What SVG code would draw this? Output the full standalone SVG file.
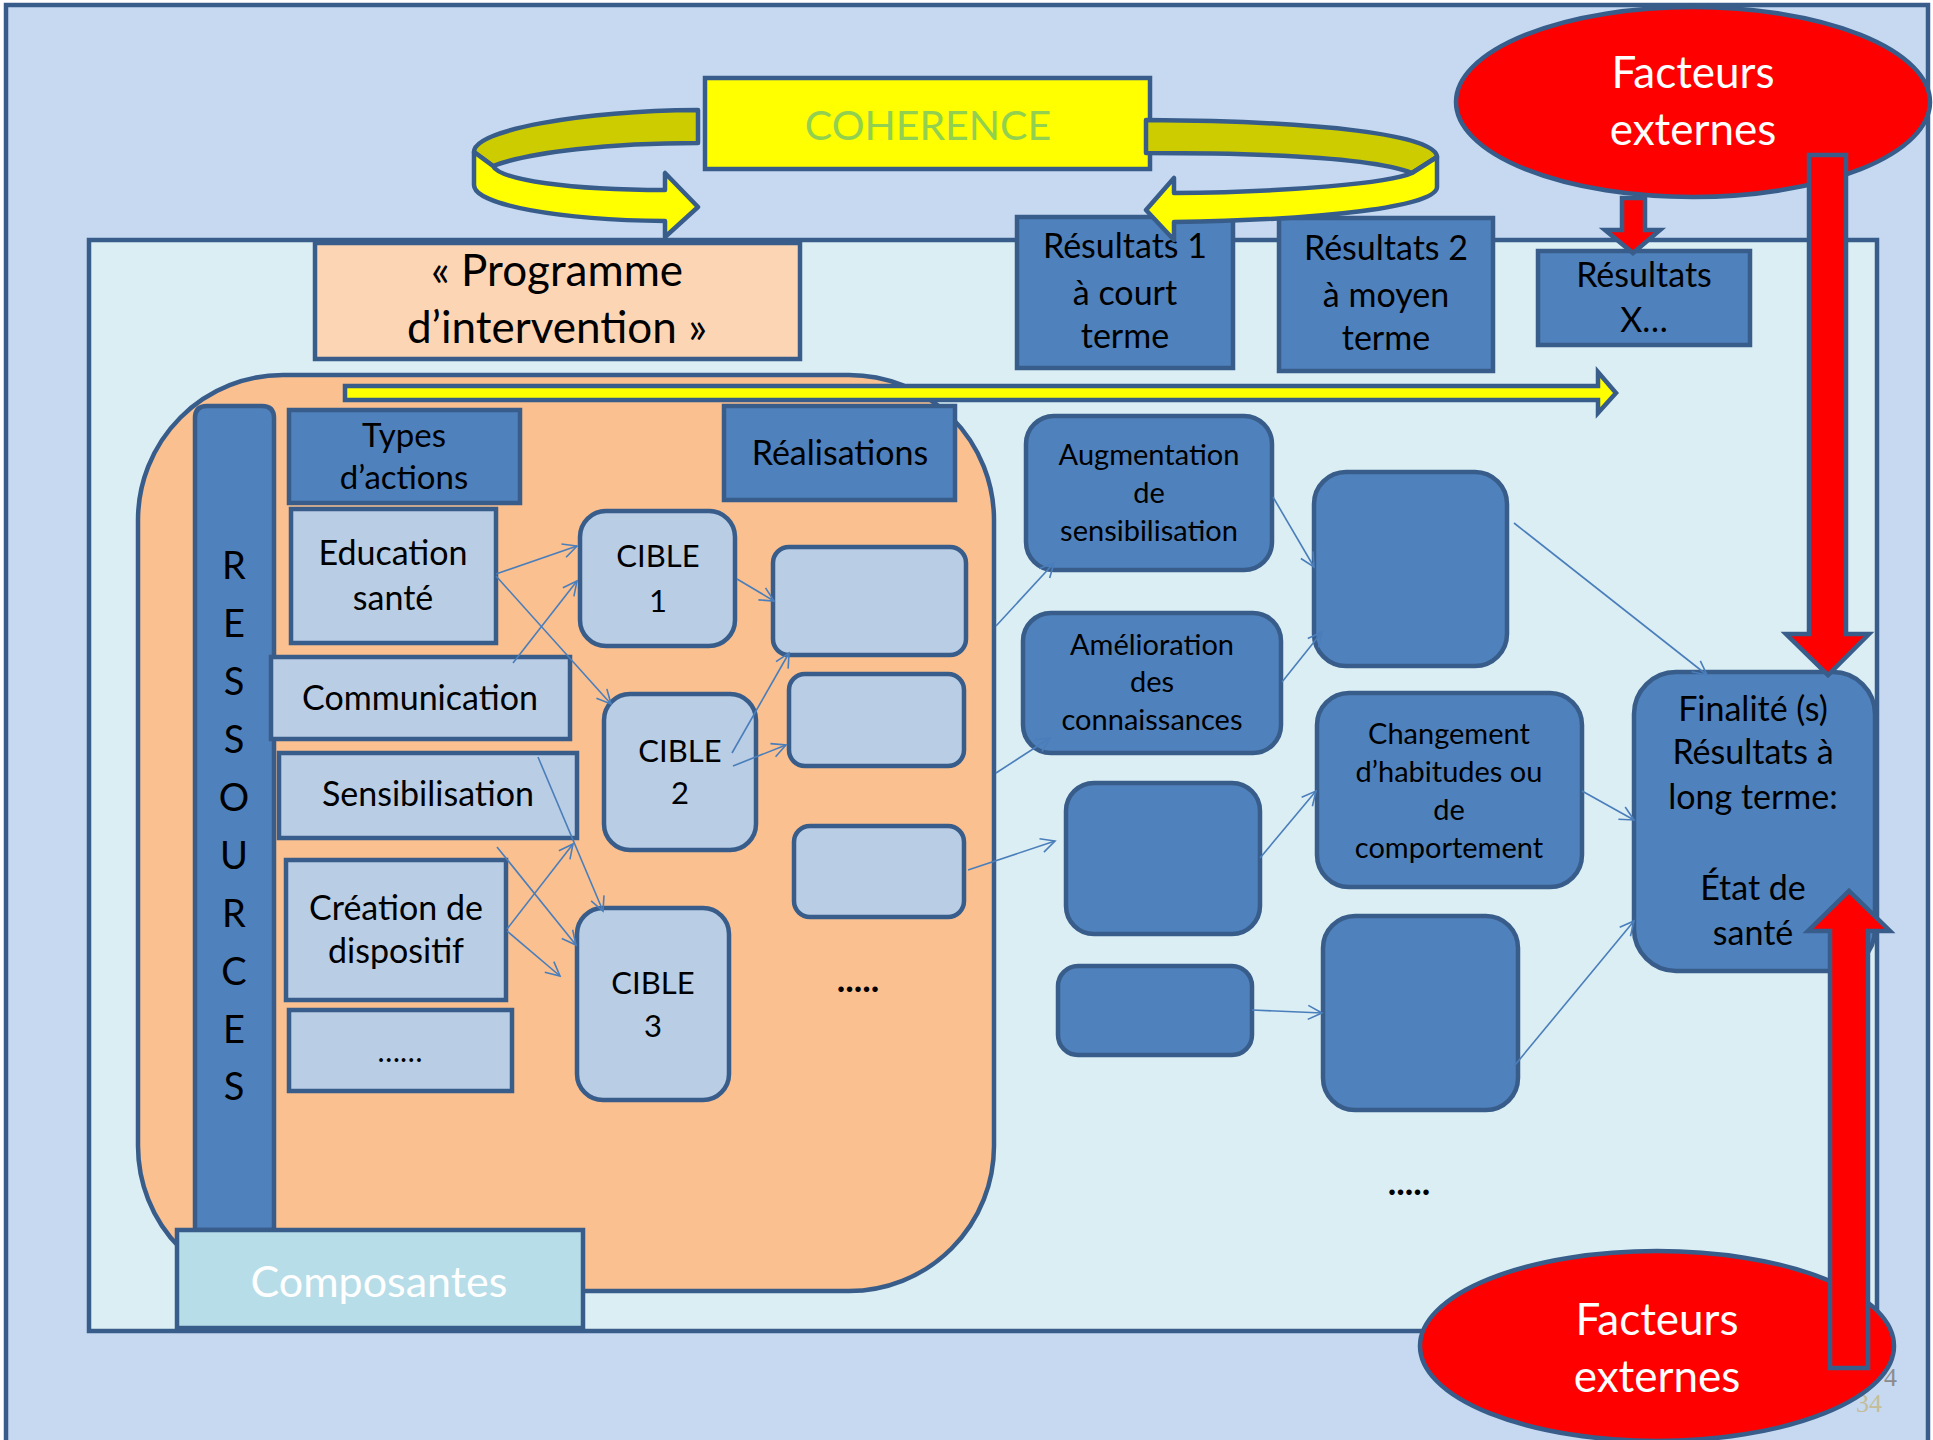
<svg xmlns="http://www.w3.org/2000/svg" width="1933" height="1440" viewBox="0 0 1933 1440">
<defs>
<style>
.t{font-family:Lato,'Liberation Sans',sans-serif;fill:#000;text-anchor:middle}
.w{fill:#fff}
.box{fill:#4F81BD;stroke:#385D8A;stroke-width:4.5}
.lbox{fill:#B9CDE5;stroke:#385D8A;stroke-width:4.5}
.red{fill:#FF0000;stroke:#385D8A;stroke-width:4.5}
.conn{stroke:#4A7EBB;stroke-width:1.6;fill:none;marker-end:url(#arr)}
</style>
<marker id="arr" markerUnits="userSpaceOnUse" markerWidth="18" markerHeight="18" viewBox="0 0 18 18" refX="16" refY="9" orient="auto">
<path d="M2,2 L16,9 L2,16" fill="none" stroke="#4A7EBB" stroke-width="1.6"/>
</marker>
</defs>

<g id="background">
<rect x="6" y="5" width="1922" height="1445" fill="#C6D9F1" stroke="#385D8A" stroke-width="4.5"/>
<text x="1897" y="1386" font-family="'Liberation Serif',serif" font-size="26" fill="#8C8C8C" text-anchor="end">4</text>
<text x="1882" y="1412" font-family="'Liberation Serif',serif" font-size="26" fill="#C4BD97" text-anchor="end">34</text>
<rect x="89" y="240" width="1788" height="1091" fill="#DBEEF4" stroke="#385D8A" stroke-width="4.5"/>
</g>

<g id="programme">
<rect x="315" y="243" width="485" height="116" fill="#FCD5B5" stroke="#385D8A" stroke-width="4.5"/>
<text class="t" font-size="44"><tspan x="557" y="286">« Programme</tspan><tspan x="557" y="343">d’intervention »</tspan></text>
</g>

<g id="resultats1">
<rect class="box" x="1017" y="217" width="216" height="151"/>
<text class="t" font-size="34"><tspan x="1125" y="258">Résultats 1</tspan><tspan x="1125" y="305">à court</tspan><tspan x="1125" y="348">terme</tspan></text>
</g>
<g id="resultats2">
<rect class="box" x="1279" y="218" width="214" height="153"/>
<text class="t" font-size="34"><tspan x="1386" y="260">Résultats 2</tspan><tspan x="1386" y="307">à moyen</tspan><tspan x="1386" y="350">terme</tspan></text>
</g>
<g id="resultatsX">
<rect class="box" x="1538" y="251" width="212" height="94"/>
<text class="t" font-size="34"><tspan x="1644" y="287">Résultats</tspan><tspan x="1644" y="332">X…</tspan></text>
</g>

<g id="coherence">
<rect x="705" y="78" width="445" height="91" fill="#FFFF00" stroke="#385D8A" stroke-width="4.5"/>
<text class="t" x="928" y="140" font-size="41" style="fill:#92D050">COHERENCE</text>
</g>

<g id="coherence-arrows" stroke="#385D8A" stroke-width="4.5" stroke-linejoin="round">
<path d="M698,110 C580,111 474,130 474,152 L493,166 C530,152 610,143 698,143 Z" fill="#CCCC00"/>
<path d="M474,152 L474,185 C474,205 560,220 665,221 L665,237 L698,207 L665,173 L665,190 C570,190 500,180 493,166 Z" fill="#FFFF00"/>
<path d="M1146,120 C1320,121 1437,135 1437,157 L1412,173 C1380,160 1290,153 1146,153 Z" fill="#CCCC00"/>
<path d="M1437,157 L1437,187 C1437,207 1320,220 1174,222 L1174,240 L1146,210 L1174,178 L1174,193 C1290,192 1390,183 1412,173 Z" fill="#FFFF00"/>
</g>

<g id="facteurs-haut">
<ellipse class="red" cx="1693" cy="102" rx="237" ry="95"/>
<text class="t w" font-size="44" style="fill:#fff"><tspan x="1693" y="88">Facteurs</tspan><tspan x="1693" y="145">externes</tspan></text>
</g>

<g id="composantes-zone">
<rect x="138" y="375" width="856" height="916" rx="145" ry="145" fill="#FAC090" stroke="#385D8A" stroke-width="4.5"/>
</g>

<g id="yellow-arrow">
<path d="M345,386 L1598,386 L1598,372 L1616,393 L1598,413 L1598,400 L345,400 Z" fill="#FFFF00" stroke="#385D8A" stroke-width="4.5"/>
</g>

<g id="ressources">
<path d="M195,1230 L195,418 Q195,406 207,406 L262,406 Q274,406 274,418 L274,1230 Z" fill="#4F81BD" stroke="#385D8A" stroke-width="4.5"/>
<text class="t" font-size="38">
<tspan x="234" y="579">R</tspan><tspan x="234" y="637">E</tspan><tspan x="234" y="695">S</tspan><tspan x="234" y="753">S</tspan><tspan x="234" y="811">O</tspan><tspan x="234" y="869">U</tspan><tspan x="234" y="927">R</tspan><tspan x="234" y="985">C</tspan><tspan x="234" y="1043">E</tspan><tspan x="234" y="1100">S</tspan>
</text>
</g>

<g id="types-actions">
<rect class="box" x="289" y="410" width="231" height="93"/>
<text class="t" font-size="33"><tspan x="404" y="447">Types</tspan><tspan x="404" y="489">d’actions</tspan></text>
</g>
<g id="realisations">
<rect class="box" x="724" y="406" width="231" height="94"/>
<text class="t" x="840" y="465" font-size="34">Réalisations</text>
</g>

<g id="education">
<rect class="lbox" x="291" y="509" width="205" height="134"/>
<text class="t" font-size="34"><tspan x="393" y="565">Education</tspan><tspan x="393" y="610">santé</tspan></text>
</g>
<g id="communication">
<rect class="lbox" x="271" y="657" width="299" height="82"/>
<text class="t" x="420" y="710" font-size="34">Communication</text>
</g>
<g id="sensibilisation">
<rect class="lbox" x="279" y="753" width="298" height="85"/>
<text class="t" x="428" y="806" font-size="34">Sensibilisation</text>
</g>
<g id="creation">
<rect class="lbox" x="286" y="860" width="220" height="140"/>
<text class="t" font-size="34"><tspan x="396" y="920">Création de</tspan><tspan x="396" y="963">dispositif</tspan></text>
</g>
<g id="autres-actions">
<rect class="lbox" x="289" y="1010" width="223" height="81"/>
<text class="t" x="400" y="1062" font-size="30">……</text>
</g>

<g id="cible1">
<rect class="lbox" x="580" y="511" width="155" height="135" rx="26"/>
<text class="t" font-size="31"><tspan x="658" y="567">CIBLE</tspan><tspan x="658" y="612">1</tspan></text>
</g>
<g id="cible2">
<rect class="lbox" x="604" y="694" width="152" height="156" rx="26"/>
<text class="t" font-size="31"><tspan x="680" y="762">CIBLE</tspan><tspan x="680" y="804">2</tspan></text>
</g>
<g id="cible3">
<rect class="lbox" x="577" y="908" width="152" height="192" rx="26"/>
<text class="t" font-size="31"><tspan x="653" y="994">CIBLE</tspan><tspan x="653" y="1037">3</tspan></text>
</g>

<g id="real1"><rect class="lbox" x="773" y="547" width="193" height="108" rx="16"/></g>
<g id="real2"><rect class="lbox" x="789" y="674" width="175" height="92" rx="16"/></g>
<g id="real3"><rect class="lbox" x="794" y="826" width="170" height="91" rx="16"/></g>
<g id="real-etc"><text class="t" x="858" y="992" font-size="36" font-weight="bold">.....</text></g>

<g id="augmentation">
<rect class="box" x="1026" y="416" width="246" height="154" rx="28"/>
<text class="t" font-size="29"><tspan x="1149" y="465">Augmentation</tspan><tspan x="1149" y="503">de</tspan><tspan x="1149" y="541">sensibilisation</tspan></text>
</g>
<g id="amelioration">
<rect class="box" x="1023" y="613" width="258" height="140" rx="28"/>
<text class="t" font-size="29"><tspan x="1152" y="655">Amélioration</tspan><tspan x="1152" y="692">des</tspan><tspan x="1152" y="730">connaissances</tspan></text>
</g>
<g id="effet1"><rect class="box" x="1314" y="472" width="193" height="194" rx="32"/></g>
<g id="changement">
<rect class="box" x="1317" y="693" width="265" height="194" rx="32"/>
<text class="t" font-size="29"><tspan x="1449" y="744">Changement</tspan><tspan x="1449" y="782">d’habitudes ou</tspan><tspan x="1449" y="820">de</tspan><tspan x="1449" y="858">comportement</tspan></text>
</g>
<g id="effet2"><rect class="box" x="1066" y="783" width="194" height="151" rx="28"/></g>
<g id="effet3"><rect class="box" x="1058" y="966" width="194" height="89" rx="20"/></g>
<g id="effet4"><rect class="box" x="1323" y="916" width="195" height="194" rx="32"/></g>
<g id="effets-etc"><text class="t" x="1409" y="1195" font-size="36" font-weight="bold">.....</text></g>

<g id="finalite">
<rect class="box" x="1634" y="672" width="241" height="299" rx="42"/>
<text class="t" font-size="34"><tspan x="1753" y="721">Finalité (s)</tspan><tspan x="1753" y="764">Résultats à</tspan><tspan x="1753" y="809">long terme:</tspan><tspan x="1753" y="900">État de</tspan><tspan x="1753" y="945">santé</tspan></text>
</g>

<g id="composantes">
<rect x="177" y="1230" width="406" height="98" fill="#B7DDE8" stroke="#385D8A" stroke-width="4.5"/>
<text class="t w" x="379" y="1297" font-size="43" style="fill:#fff">Composantes</text>
</g>

<g id="connectors">
<line class="conn" x1="496" y1="574" x2="577" y2="546"/>
<line class="conn" x1="496" y1="576" x2="611" y2="704"/>
<line class="conn" x1="513" y1="663" x2="577" y2="581"/>
<line class="conn" x1="737" y1="579" x2="774" y2="601"/>
<line class="conn" x1="732" y1="753" x2="789" y2="653"/>
<line class="conn" x1="733" y1="766" x2="786" y2="745"/>
<line class="conn" x1="538" y1="757" x2="603" y2="911"/>
<line class="conn" x1="497" y1="847" x2="576" y2="945"/>
<line class="conn" x1="507" y1="929" x2="573" y2="844"/>
<line class="conn" x1="507" y1="931" x2="560" y2="976"/>
<line class="conn" x1="996" y1="626" x2="1054" y2="563"/>
<line class="conn" x1="996" y1="773" x2="1050" y2="738"/>
<line class="conn" x1="968" y1="870" x2="1055" y2="841"/>
<line class="conn" x1="1273" y1="497" x2="1314" y2="567"/>
<line class="conn" x1="1282" y1="682" x2="1322" y2="632"/>
<line class="conn" x1="1514" y1="523" x2="1707" y2="675"/>
<line class="conn" x1="1260" y1="858" x2="1316" y2="791"/>
<line class="conn" x1="1582" y1="791" x2="1634" y2="820"/>
<line class="conn" x1="1252" y1="1010" x2="1322" y2="1013"/>
<line class="conn" x1="1515" y1="1065" x2="1634" y2="921"/>
</g>

<g id="facteurs-bas">
<ellipse class="red" cx="1657" cy="1346" rx="237" ry="95"/>
<text class="t w" font-size="44" style="fill:#fff"><tspan x="1657" y="1335">Facteurs</tspan><tspan x="1657" y="1392">externes</tspan></text>
</g>

<g id="red-arrows">
<path class="red" d="M1622,198 L1645,198 L1645,230 L1660,230 L1633,253 L1605,230 L1622,230 Z"/>
<path class="red" d="M1809,155 L1846,155 L1846,634 L1869,634 L1828,675 L1786,634 L1809,634 Z"/>
<path class="red" d="M1830,1368 L1868,1368 L1868,931 L1890,931 L1849,891 L1808,931 L1830,931 Z"/>
</g>
</svg>
